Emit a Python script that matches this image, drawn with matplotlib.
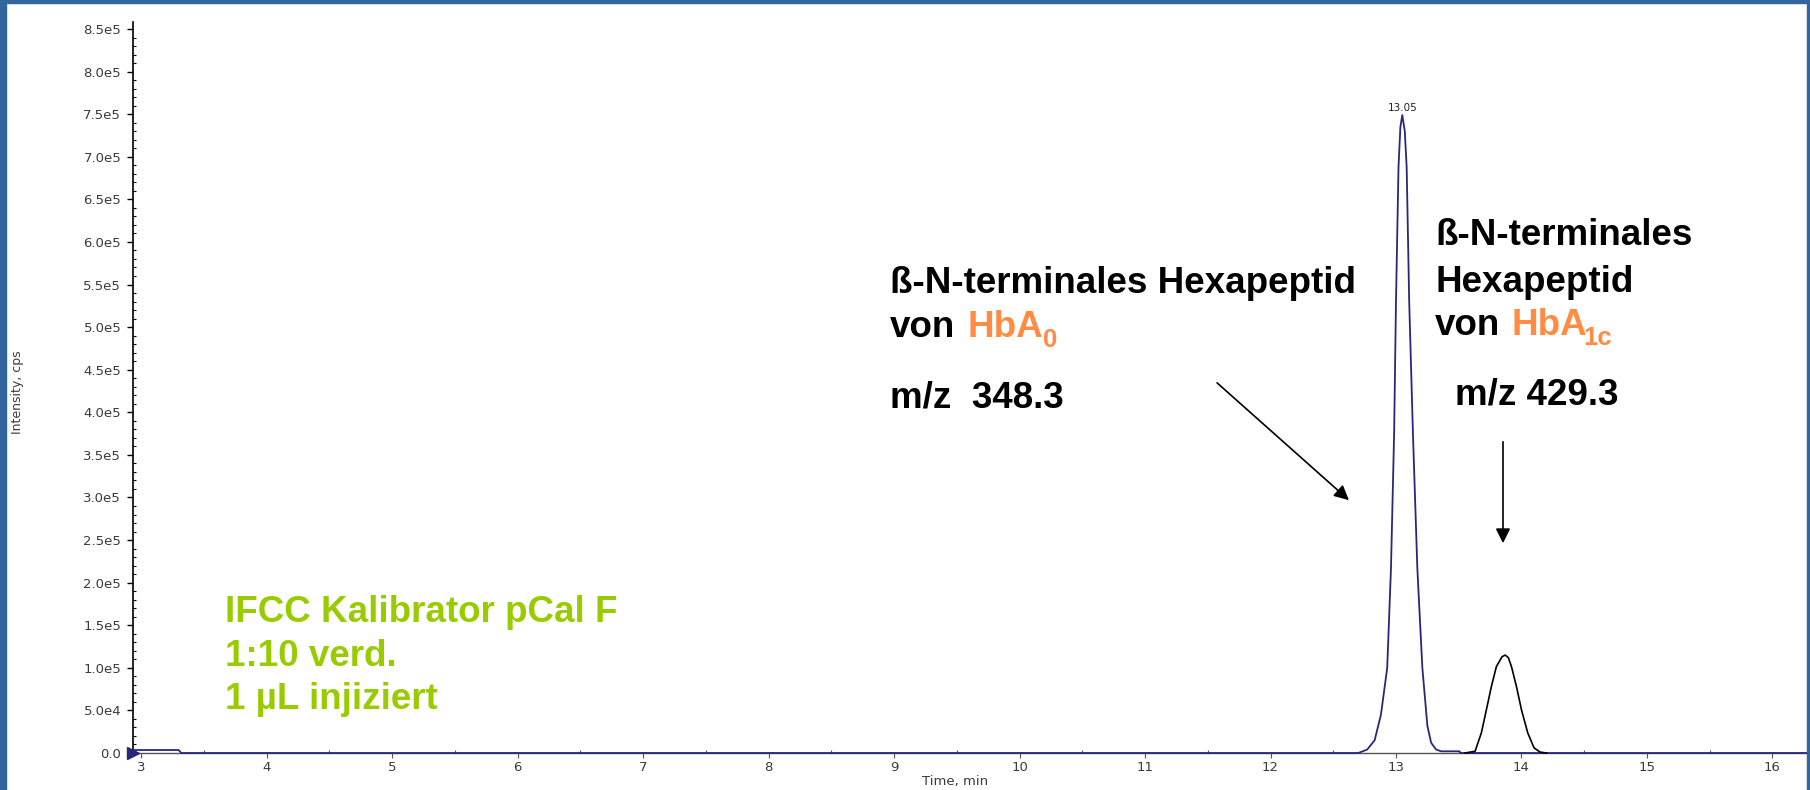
import numpy as np
import matplotlib
matplotlib.use("Agg")
from matplotlib import pyplot as plt
from matplotlib.patches import Rectangle
from matplotlib.ticker import MultipleLocator, FuncFormatter

# extracted ion chromatograms, time in min, intensity in cps
hba0_time = [2.94, 3.30, 3.32, 12.70, 12.77, 12.83, 12.88, 12.93, 12.96, 12.985,
             13.00, 13.02, 13.035, 13.05, 13.07, 13.085, 13.105, 13.135, 13.17,
             13.21, 13.25, 13.28, 13.32, 13.36, 13.50, 13.52, 16.28]
hba0_cps = [3.5e3, 3.5e3, 0, 0, 0.04e5, 0.15e5, 0.45e5, 1.0e5, 2.17e5, 3.75e5,
            5.31e5, 6.88e5, 7.35e5, 7.49e5, 7.3e5, 6.88e5, 5.31e5, 3.75e5, 2.17e5,
            1.0e5, 0.32e5, 0.12e5, 0.04e5, 0.02e5, 0.02e5, 0, 0]

hba1c_time = [13.55, 13.63, 13.68, 13.72, 13.76, 13.80, 13.845, 13.87, 13.895,
              13.92, 13.96, 14.00, 14.05, 14.10, 14.15, 14.20]
hba1c_cps = [0, 0.02e5, 0.235e5, 0.506e5, 0.78e5, 1.015e5, 1.13e5, 1.15e5, 1.12e5,
             1.015e5, 0.78e5, 0.506e5, 0.235e5, 0.06e5, 0.01e5, 0]

W, H = 1810, 790
navy = "#28287a"
orange = "#ff8c42"
green = "#99cc00"
frame = "#31659c"
bold = dict(family=["Liberation Sans", "DejaVu Sans"], weight="bold")


def px(x, y):
    return x / W, 1 - y / H


def sci(v, pos):
    if v == 0:
        return "0.0"
    e = int(np.floor(np.log10(abs(v)) + 1e-9))
    return "{:.1f}e{}".format(v / 10 ** e, e)


fig = plt.figure(figsize=(W / 100, H / 100), dpi=100)
ax = fig.add_axes([133 / W, (H - 753) / H, (1807 - 133) / W, (753 - 22) / H])

ax.plot(hba0_time, hba0_cps, color=navy, lw=1.3, zorder=4, clip_on=False)
ax.plot(hba1c_time, hba1c_cps, color="black", lw=1.2, zorder=5, clip_on=False)
ax.plot(2.936, 0, marker=">", color=navy, markersize=8, clip_on=False, zorder=6)

# apex label of the main peak
i_max = int(np.argmax(hba0_cps))
ax.annotate("{:.2f}".format(hba0_time[i_max]), xy=(hba0_time[i_max], hba0_cps[i_max]),
            xytext=(0, 1.5), textcoords="offset points", ha="center", va="bottom",
            fontsize=7.5, color="#222222")

ax.set_xlim(2.936, 16.275)
ax.set_ylim(0, 8.582e5)
for s in ["top", "right"]:
    ax.spines[s].set_visible(False)
ax.spines["left"].set_linewidth(1.2)
ax.spines["bottom"].set_color("#555555")
ax.spines["bottom"].set_linewidth(1.0)

ax.yaxis.set_major_locator(MultipleLocator(0.5e5))
ax.yaxis.set_minor_locator(MultipleLocator(0.1e5))
ax.yaxis.set_major_formatter(FuncFormatter(sci))
ax.xaxis.set_major_locator(MultipleLocator(1))
ax.xaxis.set_minor_locator(MultipleLocator(0.5))
ax.tick_params(axis="y", which="major", direction="out", length=4.5, width=1,
               pad=4, labelsize=9.5, labelcolor="#3a3a3a")
ax.tick_params(axis="y", which="minor", direction="in", length=2, width=0.8)
ax.tick_params(axis="x", which="major", direction="out", length=3.5, width=0.8,
               pad=2, labelsize=9.5, labelcolor="#3a3a3a", color="#555555")
ax.tick_params(axis="x", which="minor", direction="in", length=2, width=0.8,
               color="#555555")

fig.text(*px(17, 392), "Intensity, cps", rotation=90, ha="center", va="center",
         fontsize=9, color="#3a3a3a",
         family=["Liberation Sans Narrow", "DejaVu Sans"])
fig.text(*px(955, 781), "Time, min", ha="center", va="center", fontsize=9.5,
         color="#3a3a3a")

# peak annotations
fs = 26.5
fig.text(*px(890, 293), "ß-N-terminales Hexapeptid", fontsize=fs, va="baseline", **bold)
fig.text(*px(890, 337), "von", fontsize=fs, va="baseline", **bold)
fig.text(*px(967, 337), "HbA", fontsize=fs, va="baseline", color=orange, **bold)
fig.text(*px(1043, 347), "0", fontsize=18.5, va="baseline", color=orange, **bold)
fig.text(*px(890, 408), "m/z  348.3", fontsize=fs, va="baseline", **bold)

fig.text(*px(1435, 245), "ß-N-terminales", fontsize=fs, va="baseline", **bold)
fig.text(*px(1435, 292), "Hexapeptid", fontsize=fs, va="baseline", **bold)
fig.text(*px(1435, 335), "von", fontsize=fs, va="baseline", **bold)
fig.text(*px(1511, 335), "HbA", fontsize=fs, va="baseline", color=orange, **bold)
fig.text(*px(1583, 345), "1c", fontsize=18.5, va="baseline", color=orange, **bold)
fig.text(*px(1455, 405), "m/z 429.3", fontsize=fs, va="baseline", **bold)

arrow = dict(arrowstyle="-|>", color="black", lw=1.2, mutation_scale=22)
ax.annotate("", xy=px(1351, 502), xytext=px(1215, 381), xycoords="figure fraction",
            textcoords="figure fraction", arrowprops=arrow)
ax.annotate("", xy=px(1503, 546), xytext=px(1503, 439), xycoords="figure fraction",
            textcoords="figure fraction", arrowprops=arrow)

# sample description
for y, line in zip([622, 666, 709], ["IFCC Kalibrator pCal F", "1:10 verd.", "1 µL injiziert"]):
    fig.text(*px(225, y), line, fontsize=fs, va="baseline", color=green, **bold)

# slide frame
fig.patches.append(Rectangle((0, 0), 6 / W, 1, transform=fig.transFigure,
                             color=frame, zorder=10))
fig.patches.append(Rectangle((0, 1 - 3 / H), 1, 3 / H, transform=fig.transFigure,
                             color=frame, zorder=10))
fig.patches.append(Rectangle((1807 / W, 0), 3 / W, 1, transform=fig.transFigure,
                             color=frame, zorder=10))

fig.savefig("out.png", dpi=100)
